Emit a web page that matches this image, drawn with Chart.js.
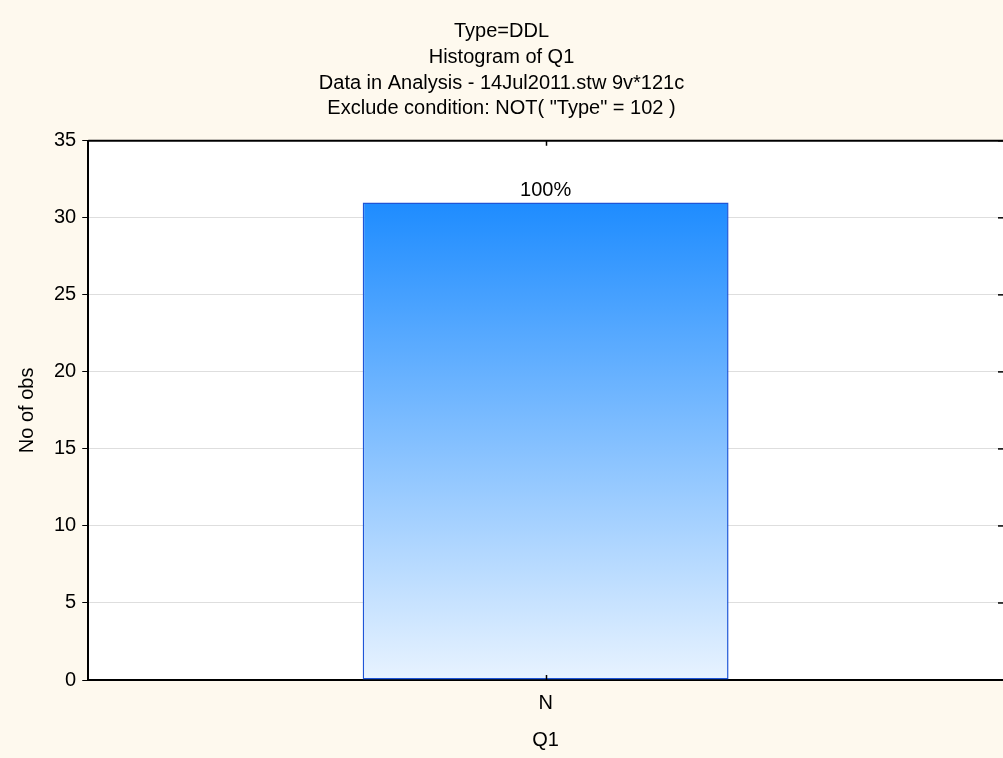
<!DOCTYPE html>
<html>
<head>
<meta charset="utf-8">
<script src="https://cdn.jsdelivr.net/npm/chart.js@4/dist/chart.umd.min.js"></script>
<style>
  html, body { margin: 0; padding: 0; background: #fef9ee; }
  #wrap { width: 1003px; height: 758px; }
</style>
</head>
<body>
<div id="wrap"><canvas id="myChart" width="1003" height="758"></canvas></div>
<script>
// datos del histograma
var categorias = ["N"];
var conteos = [31];
var porcentajes = ["100%"];
var titulos = [
  "Type=DDL",
  "Histogram of Q1",
  "Data in Analysis - 14Jul2011.stw 9v*121c",
  'Exclude condition: NOT( "Type" = 102 )'
];
var yMin = 0, yMax = 35, yPaso = 5;

var fuente = "'Liberation Sans', Arial, sans-serif";
var tam = 20;

// fondo crema y area del grafico en blanco
var fondoPlugin = {
  id: "fondo",
  beforeDraw: function (chart) {
    var ctx = chart.ctx;
    var area = chart.chartArea;
    ctx.save();
    ctx.fillStyle = "#fef9ee";
    ctx.fillRect(0, 0, chart.width, chart.height);
    ctx.fillStyle = "#ffffff";
    ctx.fillRect(area.left, area.top, area.right - area.left, area.bottom - area.top);
    ctx.restore();
  }
};

// marco superior, marcas interiores y etiqueta de porcentaje
var marcoPlugin = {
  id: "marco",
  afterDraw: function (chart) {
    var ctx = chart.ctx;
    var area = chart.chartArea;
    var x = chart.scales.x;
    var y = chart.scales.y;
    ctx.save();
    ctx.strokeStyle = "#000";
    ctx.lineWidth = 2;
    ctx.beginPath();
    ctx.moveTo(area.left, area.top);
    ctx.lineTo(area.right, area.top);
    ctx.stroke();

    // marcas del eje x (arriba y abajo, hacia dentro)
    ctx.lineWidth = 1.5;
    x.ticks.forEach(function (t, i) {
      var px = Math.round(x.getPixelForTick(i)) + 0.5;
      ctx.beginPath();
      ctx.moveTo(px, area.top);
      ctx.lineTo(px, area.top + 5);
      ctx.moveTo(px, area.bottom);
      ctx.lineTo(px, area.bottom - 5);
      ctx.stroke();
    });

    // marcas del lado derecho
    y.ticks.forEach(function (t) {
      var py = y.getPixelForValue(t.value);
      ctx.beginPath();
      ctx.moveTo(area.right - 5, py);
      ctx.lineTo(area.right, py);
      ctx.stroke();
    });

    // porcentaje sobre cada barra
    var meta = chart.getDatasetMeta(0);
    ctx.fillStyle = "#000";
    ctx.font = tam + "px " + fuente;
    ctx.textAlign = "center";
    ctx.textBaseline = "bottom";
    meta.data.forEach(function (bar, i) {
      ctx.fillText(porcentajes[i], bar.x, bar.y - 2);
    });
    ctx.restore();
  }
};

function degradado(context) {
  var chart = context.chart;
  var y = chart.scales.y;
  if (!y || !chart.chartArea) {
    return "#1e8cff";
  }
  var v = context.raw || 0;
  var top = y.getPixelForValue(v);
  var bottom = y.getPixelForValue(0);
  var g = chart.ctx.createLinearGradient(0, top, 0, bottom);
  g.addColorStop(0, "rgb(30,140,255)");
  g.addColorStop(1, "rgb(232,243,255)");
  return g;
}

var ctx = document.getElementById("myChart").getContext("2d");
var myChart = new Chart(ctx, {
  type: "bar",
  data: {
    labels: categorias,
    datasets: [
      {
        label: "Q1",
        data: conteos,
        backgroundColor: degradado,
        borderColor: "rgb(30,85,215)",
        borderWidth: 1.5,
        borderSkipped: false,
        barPercentage: 0.4,
        categoryPercentage: 1.0
      }
    ]
  },
  options: {
    responsive: false,
    animation: false,
    devicePixelRatio: 1,
    layout: {
      padding: { left: 0, right: 0, top: 0, bottom: 0 }
    },
    plugins: {
      legend: { display: false },
      tooltip: { enabled: false },
      title: {
        display: true,
        text: titulos,
        color: "#000",
        font: { family: fuente, size: tam, weight: "normal", lineHeight: 25.7 / 20 },
        padding: { top: 19, bottom: 19 }
      }
    },
    scales: {
      x: {
        grid: { display: false, drawTicks: false },
        border: { color: "#000", width: 2 },
        ticks: {
          color: "#000",
          font: { family: fuente, size: tam },
          padding: 11.5
        },
        title: {
          display: true,
          text: "Q1",
          color: "#000",
          font: { family: fuente, size: tam },
          padding: { top: 1, bottom: 6 }
        }
      },
      y: {
        min: yMin,
        max: yMax,
        grid: {
          color: "#dedede",
          tickColor: "#000",
          tickLength: 6,
          lineWidth: 1
        },
        border: { color: "#000", width: 2 },
        ticks: {
          stepSize: yPaso,
          color: "#000",
          font: { family: fuente, size: tam },
          padding: 6
        },
        title: {
          display: true,
          text: "No of obs",
          color: "#000",
          font: { family: fuente, size: tam },
          padding: { top: 15, bottom: 9 }
        }
      }
    }
  },
  plugins: [fondoPlugin, marcoPlugin]
});
</script>
</body>
</html>
